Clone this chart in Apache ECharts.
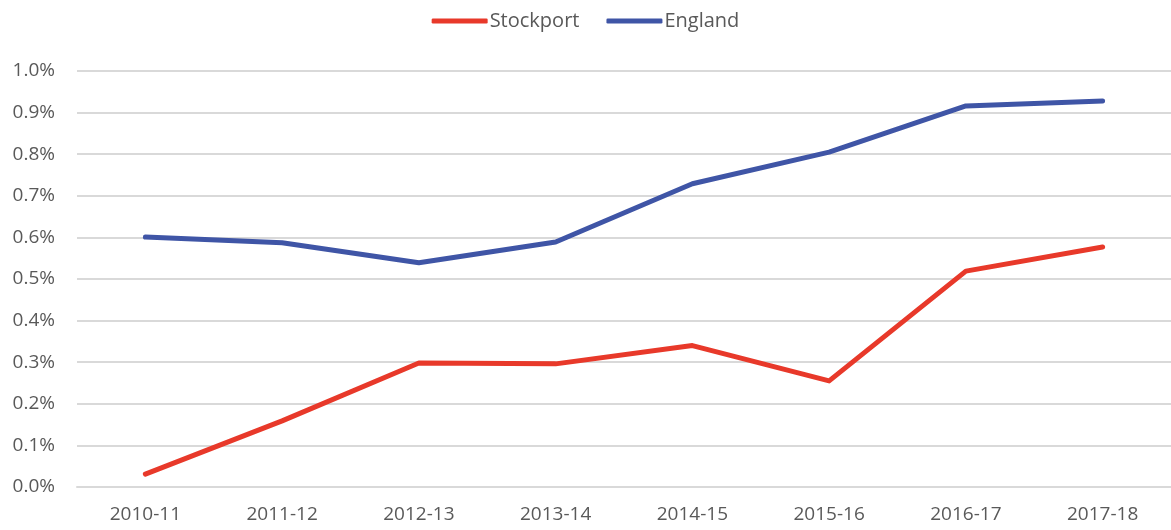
<!DOCTYPE html>
<html><head><meta charset="utf-8">
<script src="https://cdn.jsdelivr.net/npm/echarts@6/dist/echarts.min.js"></script>
<style>html,body{margin:0;padding:0;background:#fff}#c{width:1171px;height:530px}</style>
</head><body><div id="c"></div>
<script>
const categories = ['2010-11','2011-12','2012-13','2013-14','2014-15','2015-16','2016-17','2017-18'];
const stockport = [0.031, 0.159, 0.298, 0.296, 0.340, 0.255, 0.519, 0.577];
const england = [0.601, 0.587, 0.539, 0.589, 0.729, 0.805, 0.916, 0.928];
const chart = echarts.init(document.getElementById('c'));
chart.setOption({
  animation: false,
  legend: {
    top: 6, left: 'center', itemWidth: 56, itemHeight: 5, itemGap: 27,
    icon: 'roundRect',
    textStyle: {color: '#595959', fontSize: 20, fontFamily: 'Open Sans', padding: [0,0,0,-3]},
    data: ['Stockport','England']
  },
  grid: {left: 77, width: 1098, top: 71, bottom: 43},
  xAxis: {
    type: 'category', data: categories, boundaryGap: true,
    axisLine: {lineStyle: {color: '#d9d9d9', width: 2}},
    axisTick: {show: false},
    axisLabel: {color: '#595959', fontSize: 19, fontFamily: 'Open Sans', margin: 18}
  },
  yAxis: {
    type: 'value', min: 0, max: 1.0, interval: 0.1,
    axisLine: {show: false}, axisTick: {show: false},
    splitLine: {lineStyle: {color: '#d9d9d9', width: 2}},
    axisLabel: {color: '#595959', fontSize: 19, fontFamily: 'Open Sans', margin: 22,
      formatter: v => v.toFixed(1) + '%'}
  },
  series: [
    {name: 'Stockport', type: 'line', data: stockport, symbol: 'none',
     lineStyle: {color: '#E8392A', width: 5, cap: 'round', join: 'round'}, itemStyle: {color: '#E8392A'}},
    {name: 'England', type: 'line', data: england, symbol: 'none',
     lineStyle: {color: '#3F55A6', width: 5, cap: 'round', join: 'round'}, itemStyle: {color: '#3F55A6'}}
  ]
});
</script></body></html>
